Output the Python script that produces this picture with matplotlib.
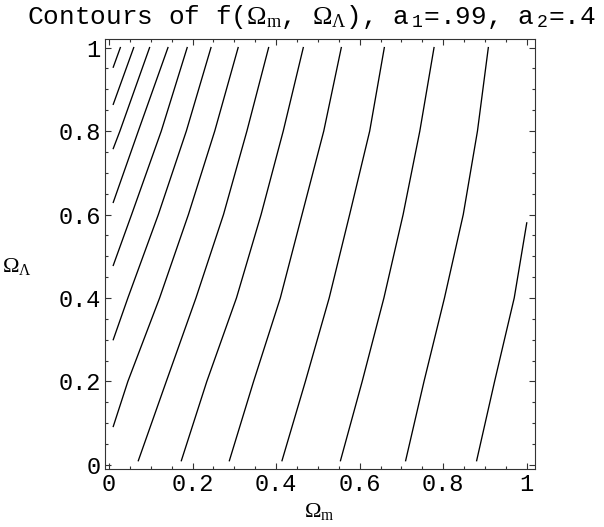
import matplotlib
matplotlib.use('Agg')
import matplotlib.pyplot as plt
from matplotlib.ticker import MultipleLocator

# Contour lines (x = Omega_m, y = Omega_Lambda)
linie_x = [
    [0.010, 0.027],
    [0.010, 0.059],
    [0.010, 0.026, 0.097],
    [0.010, 0.070, 0.141],
    [0.010, 0.054, 0.125, 0.187],
    [0.010, 0.045, 0.118, 0.185, 0.244],
    [0.010, 0.045, 0.121, 0.190, 0.253, 0.309],
    [0.070, 0.137, 0.208, 0.274, 0.330, 0.382],
    [0.173, 0.234, 0.305, 0.364, 0.417, 0.465],
    [0.288, 0.346, 0.410, 0.462, 0.514, 0.556],
    [0.414, 0.470, 0.527, 0.576, 0.624, 0.659],
    [0.554, 0.606, 0.658, 0.704, 0.744, 0.778],
    [0.710, 0.754, 0.803, 0.848, 0.882, 0.908],
    [0.880, 0.923, 0.970, 1.000],
]
linie_y = [
    [0.953, 1.0],
    [0.864, 1.0],
    [0.758, 0.8, 1.0],
    [0.629, 0.8, 1.0],
    [0.478, 0.6, 0.8, 1.0],
    [0.300, 0.4, 0.6, 0.8, 1.0],
    [0.092, 0.2, 0.4, 0.6, 0.8, 1.0],
    [0.010, 0.2, 0.4, 0.6, 0.8, 1.0],
    [0.010, 0.2, 0.4, 0.6, 0.8, 1.0],
    [0.010, 0.2, 0.4, 0.6, 0.8, 1.0],
    [0.010, 0.2, 0.4, 0.6, 0.8, 1.0],
    [0.010, 0.2, 0.4, 0.6, 0.8, 1.0],
    [0.010, 0.2, 0.4, 0.6, 0.8, 1.0],
    [0.010, 0.2, 0.4, 0.580],
]
ticki = [0, 0.2, 0.4, 0.6, 0.8, 1]
etykiety = ['0', '0.2', '0.4', '0.6', '0.8', '1']

plt.rcParams['mathtext.fontset'] = 'custom'
plt.rcParams['mathtext.rm'] = 'Liberation Serif'
plt.rcParams['mathtext.it'] = 'Liberation Serif:italic'
plt.rcParams['mathtext.tt'] = 'Liberation Mono'

fig = plt.figure(figsize=(6.04, 5.27), dpi=100)
ax = fig.add_axes([0.1738, 0.1101, 0.712, 0.8153])

for xs, ys in zip(linie_x, linie_y):
    ax.plot(xs, ys, color='black', linewidth=0.95)

ax.set_xlim(-0.0098, 1.0198)
ax.set_ylim(-0.0098, 1.0198)
ax.set_xticks(ticki)
ax.set_xticklabels(etykiety)
ax.set_yticks(ticki)
ax.set_yticklabels(etykiety)
ax.xaxis.set_minor_locator(MultipleLocator(0.05))
ax.yaxis.set_minor_locator(MultipleLocator(0.05))
ax.tick_params(which='both', direction='in', top=True, right=True,
               width=0.8, colors='#333333', labelcolor='black')
ax.tick_params(which='major', length=4.5, labelsize=17, pad=3)
ax.tick_params(which='minor', length=2.5)
for lab in ax.get_xticklabels() + ax.get_yticklabels():
    lab.set_family('Liberation Mono')
for sp in ax.spines.values():
    sp.set_linewidth(0.8)
    sp.set_color('#333333')

fig.text(0.515, 0.967,
         r'Contours of f($\Omega_{\mathrm{m}}$, $\Omega_{\Lambda}$), '
         r'a$\,_{\mathtt{1}}$=.99, a$\,_{\mathtt{2}}$=.4',
         family='Liberation Mono', fontsize=18.8, ha='center', va='center')
fig.text(0.528, 0.030, r'$\Omega_{\mathrm{m}}$', fontsize=16,
         ha='center', va='center')
fig.text(0.028, 0.495, r'$\Omega_{\Lambda}$', fontsize=16,
         ha='center', va='center')

fig.savefig('out.png', dpi=100)
